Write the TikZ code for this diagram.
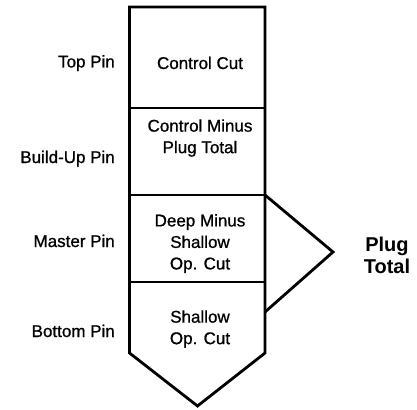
\documentclass[tikz,border=0pt]{standalone}
\usepackage{fontspec}
\setmainfont{Liberation Sans}
\newfontfamily\heavysans{Liberation Sans}[FakeBold=0.9]
\begin{document}
\begin{tikzpicture}[x=1pt,y=-1pt,
  lbl/.style={inner sep=0pt,font=\heavysans\fontsize{17}{21.5}\selectfont,anchor=base east},
  cell/.style={inner sep=0pt,align=center,font=\heavysans\fontsize{17}{21.5}\selectfont},
  outer/.style={line width=2.8pt,line join=miter},
  divider/.style={line width=2.2pt}]
\useasboundingbox (0,0) rectangle (417,409);
% outline of the pin stack
\coordinate (tl) at (129.5,7);
\coordinate (tr) at (265,7);
\coordinate (br) at (265,353);
\coordinate (tip) at (197.5,406);
\coordinate (bl) at (129.5,353);
\draw[outer] (tl) -- (tr) -- (br) -- (tip) -- (bl) -- cycle;
% dividers
\coordinate (d1l) at (129.5,108); \coordinate (d1r) at (265,108);
\coordinate (d2l) at (129.5,195); \coordinate (d2r) at (265,195);
\coordinate (d3l) at (129.5,282); \coordinate (d3r) at (265,282);
\draw[divider] (d1l) -- (d1r);
\draw[outer] (d2l) -- (d2r);
\draw[divider] (d3l) -- (d3r);
% bracket
\coordinate (apex) at (333,252);
\coordinate (bend) at (265,312);
\draw[outer] (d2r) -- (apex) -- (bend);
% left labels
\node[lbl] (top) at (115,67.5) {Top Pin};
\node[lbl] (build) at (115,163) {Build-Up Pin};
\node[lbl] (master) at (115,247) {Master Pin};
\node[lbl] (bottom) at (115,337) {Bottom Pin};
% cell texts
\node[cell,anchor=base] (c1) at (200,69) {Control Cut};
\node[cell] (c2) at (200,138) {Control Minus\\Plug Total};
\node[cell] (c3) at (200,243.5) {Deep Minus\\Shallow\\Op. Cut};
\node[cell] (c4) at (200,329) {Shallow\\Op. Cut};
% plug total
\node[inner sep=0pt,align=center,font=\fontsize{20}{22}\selectfont\bfseries] (plug) at (387,255) {Plug\\Total};
\end{tikzpicture}
\end{document}
